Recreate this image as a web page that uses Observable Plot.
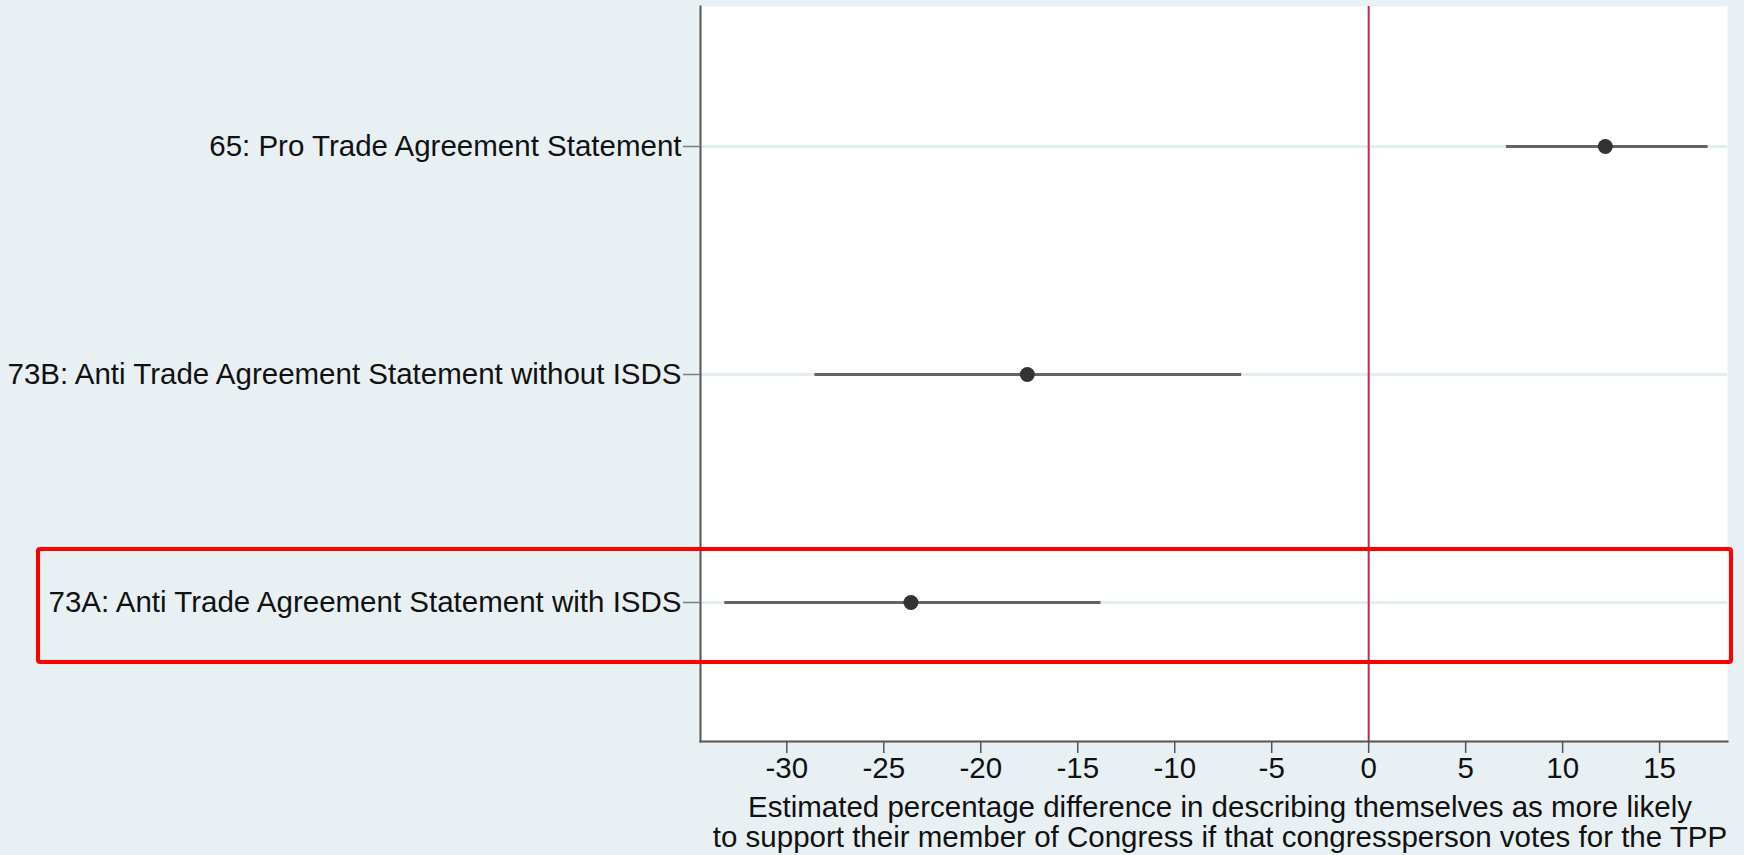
<!DOCTYPE html>
<html>
<head>
<meta charset="utf-8">
<script src="https://cdn.jsdelivr.net/npm/d3@7"></script>
<script src="https://cdn.jsdelivr.net/npm/@observablehq/plot@0.6"></script>
<style>
  html, body { margin: 0; padding: 0; background: #e8f0f3; }
  #chart { position: relative; width: 1744px; height: 855px; }
</style>
</head>
<body>
<div id="chart"></div>
<script>
// Data
const categories = [
  "65: Pro Trade Agreement Statement",
  "73B: Anti Trade Agreement Statement without ISDS",
  "73A: Anti Trade Agreement Statement with ISDS"
];
const estimates = [12.2, -17.6, -23.6];
const lower = [7.1, -28.55, -33.2];
const upper = [17.5, -6.55, -13.8];
const xTicks = [-30, -25, -20, -15, -10, -5, 0, 5, 10, 15];
const xTitle = "Estimated percentage difference in describing themselves as more likely\nto support their member of Congress if that congressperson votes for the TPP";
const highlighted = "73A: Anti Trade Agreement Statement with ISDS";

const rows = categories.map((c, i) => ({label: c, est: estimates[i], lo: lower[i], hi: upper[i]}));

const font = "'Liberation Sans', Arial, sans-serif";

const plot = Plot.plot({
  width: 1744,
  height: 855,
  marginLeft: 700,
  marginRight: 17,
  marginTop: 6,
  marginBottom: 114,
  style: {background: "#e8f0f3", fontFamily: font, fontSize: "29.5px", color: "#111", overflow: "visible"},
  x: {domain: [-34.45, 18.5], ticks: xTicks, tickFormat: d => String(d)},
  y: {domain: categories, type: "point", padding: 0.605},
  marks: [
    Plot.frame({fill: "white", stroke: null}),
    Plot.ruleY(categories, {stroke: "#e4edf0", strokeWidth: 3}),
    Plot.ruleX([0], {stroke: "#c42a4c", strokeWidth: 2}),
    Plot.ruleY(rows, {y: "label", x1: "lo", x2: "hi", stroke: "#646464", strokeWidth: 3}),
    Plot.dot(rows, {x: "est", y: "label", r: 7.5, fill: "#333", stroke: null}),
    Plot.frame({anchor: "left", stroke: "#555", strokeWidth: 2}),
    Plot.frame({anchor: "bottom", stroke: "#555", strokeWidth: 2}),
    Plot.axisX({ticks: xTicks, tickFormat: d => String(d), tickSize: 12, tickPadding: 4, stroke: "#555", strokeWidth: 1.5, fontSize: 29.5, label: null, fill: "#111"}),
    Plot.axisY({tickSize: 17, tickPadding: 2, stroke: "#7a7f83", strokeWidth: 1.5, fontSize: 29.5, label: null, fill: "#111"}),
    Plot.text([xTitle], {frameAnchor: "bottom", dy: 81, dx: 6, lineAnchor: "middle", lineHeight: 1.0, fontSize: 29.5, fill: "#111", text: d => d})
  ]
});

document.getElementById("chart").appendChild(plot);

// Highlight box around the 73A row, positioned from the y scale
const ys = plot.scale("y");
const cy = ys.apply(highlighted);
const svgNS = "http://www.w3.org/2000/svg";
const box = document.createElementNS(svgNS, "rect");
box.setAttribute("x", 38);
box.setAttribute("y", cy - 53);
box.setAttribute("width", 1731 - 38);
box.setAttribute("height", 113);
box.setAttribute("rx", 2);
box.setAttribute("fill", "none");
box.setAttribute("stroke", "#ff0000");
box.setAttribute("stroke-width", 4);
plot.appendChild(box);
</script>
</body>
</html>
